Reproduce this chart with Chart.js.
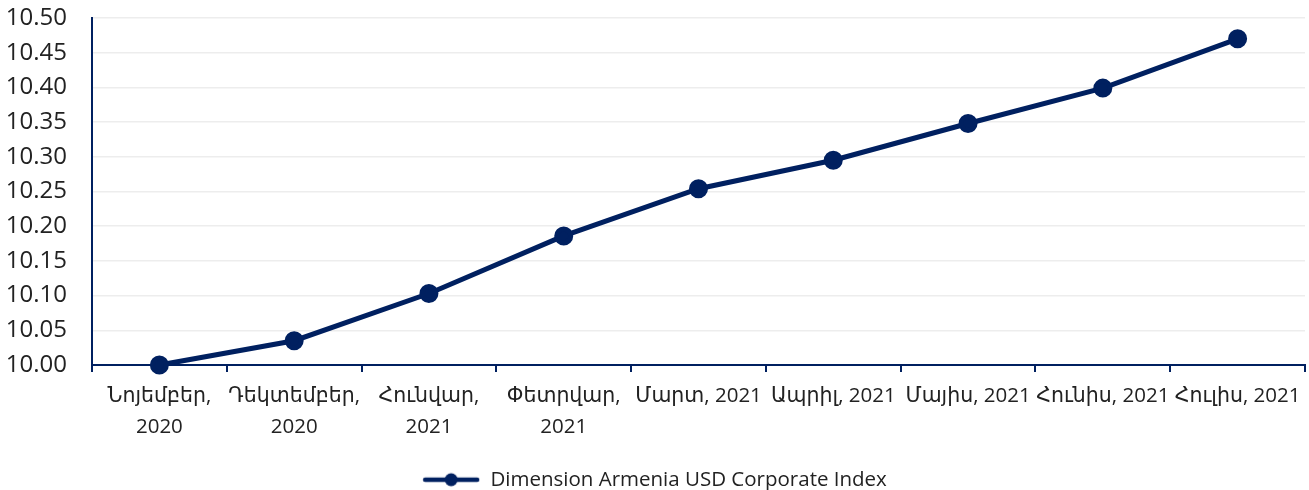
<!DOCTYPE html>
<html><head><meta charset="utf-8">
<script src="https://cdn.jsdelivr.net/npm/chart.js@4.4.0/dist/chart.umd.min.js"></script>
<style>html,body{margin:0;padding:0;background:#fff}#wrap{width:1309px;height:490px}</style>
</head><body><div id="wrap"><canvas id="c"></canvas></div>
<script>
const categories = [
  ["Նոյեմբեր,", "2020"], ["Դեկտեմբեր,", "2020"], ["Հունվար,", "2021"], ["Փետրվար,", "2021"],
  "Մարտ, 2021", "Ապրիլ, 2021", "Մայիս, 2021", "Հունիս, 2021", "Հուլիս, 2021"
];
const seriesName = "Dimension Armenia USD Corporate Index";
const values = [10.000, 10.035, 10.103, 10.186, 10.254, 10.295, 10.348, 10.399, 10.470];
const yMin = 10.00, yMax = 10.50, yStep = 0.05;

const navy = "#002060";
const FONT = "'Open Sans', 'DejaVu Sans', sans-serif";

// legend icon: line with dot
const icon = document.createElement('canvas');
icon.width = 58; icon.height = 16;
(function(){
  const g = icon.getContext('2d');
  g.strokeStyle = navy; g.lineWidth = 4.5; g.lineCap = 'round';
  g.beginPath(); g.moveTo(3, 8); g.lineTo(55, 8); g.stroke();
  g.fillStyle = navy; g.beginPath(); g.arc(29, 8, 6.5, 0, Math.PI*2); g.fill();
})();

new Chart(document.getElementById('c'), {
  type: 'line',
  data: { labels: categories, datasets: [{
    label: seriesName, data: values, clip: false,
    borderColor: navy, backgroundColor: navy, borderWidth: 5,
    pointRadius: 7, pointHoverRadius: 7, pointBackgroundColor: navy, pointBorderColor: navy,
    tension: 0
  }]},
  options: {
    responsive: true, maintainAspectRatio: false, animation: false,
    layout: { autoPadding: false, padding: { top: 0, right: 0, left: 0, bottom: -10 } },
    plugins: {
      tooltip: { enabled: false },
      legend: {
        position: 'bottom',
        labels: {
          usePointStyle: true, pointStyleWidth: 58, font: { family: FONT, size: 20.5 }, color: '#222',
          padding: 2,
          generateLabels: (chart) => [{ text: seriesName, pointStyle: icon, fillStyle: navy, strokeStyle: navy, lineWidth: 0, datasetIndex: 0, hidden: false, fontColor: '#222' }]
        }
      }
    },
    scales: {
      x: {
        offset: true,
        afterFit: s => { s.height += 16; s.paddingRight = 4; s.paddingLeft = 0; },
        grid: { display: true, drawOnChartArea: false, drawTicks: true, tickLength: 7, color: navy, lineWidth: 2, offset: true },
        border: { color: navy, width: 2 },
        ticks: { font: { family: FONT, size: 20.5, lineHeight: 1.5 }, color: '#222', maxRotation: 0, autoSkip: false, padding: 9 }
      },
      y: {
        min: yMin, max: yMax,
        afterFit: s => { s.width = 92; s.paddingTop = 18; },
        grid: { color: '#ededed', lineWidth: 1.5, drawTicks: false },
        border: { color: navy, width: 2 },
        ticks: { stepSize: yStep, font: { family: FONT, size: 24 }, color: '#222', padding: 25,
          callback: v => Number(v).toFixed(2) }
      }
    }
  }
});
</script></body></html>
